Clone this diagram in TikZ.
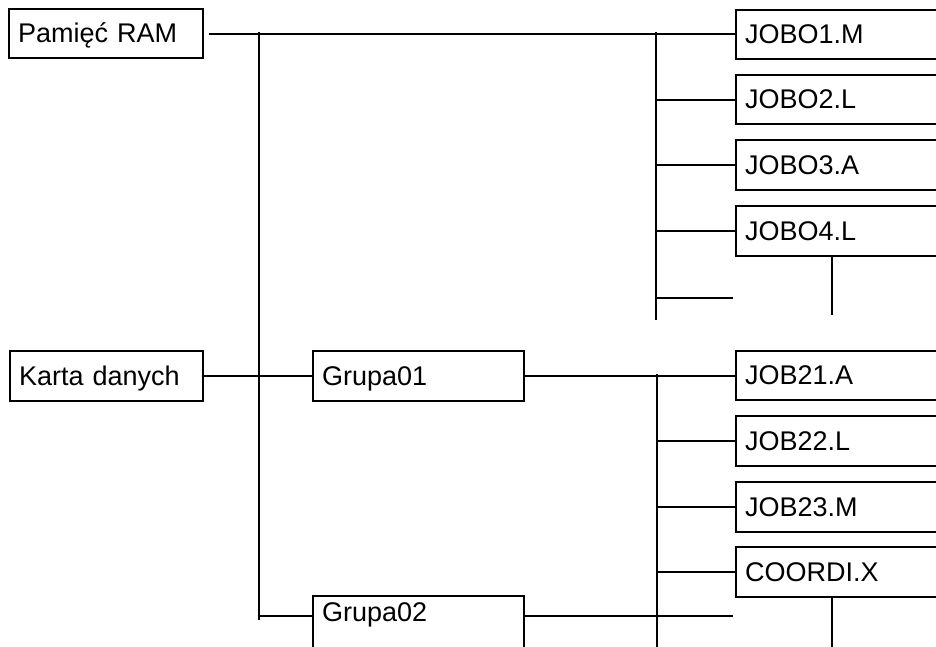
\documentclass[tikz,border=0pt]{standalone}
\usepackage{fontspec}
\setmainfont{Liberation Sans}
\begin{document}
\begin{tikzpicture}[x=1pt,y=-1pt,
  box/.style={draw, line width=2pt, anchor=north west, inner xsep=9pt, inner ysep=0pt,
    align=left, font=\fontsize{27}{30}\selectfont, text height=34pt, text depth=15.5pt},
  rbox/.style={box, text width=280pt},
  conn/.style={line width=1.7pt}]
\useasboundingbox (0,0) rectangle (936,647);
\clip (0,0) rectangle (936,647);
% left column
\node[box, text width=176pt] (ram) at (8,8) {Pamięć RAM};
\node[box, text width=175pt] (karta) at (9,350) {Karta danych};
% middle column
\node[box, text width=193pt] (g1) at (312,350) {Grupa01};
\node[box, text width=193pt, text height=25pt, text depth=35pt] (g2) at (312,595) {Grupa02};
% right column
\node[rbox] (j1) at (735,9) {JOBO1.M};
\node[rbox] (j2) at (735,74) {JOBO2.L};
\node[rbox] (j3) at (735,139.5) {JOBO3.A};
\node[rbox] (j4) at (735,205) {JOBO4.L};
\node[rbox] (j21) at (735,349.5) {JOB21.A};
\node[rbox] (j22) at (735,415) {JOB22.L};
\node[rbox] (j23) at (735,481) {JOB23.M};
\node[rbox] (cx) at (735,546) {COORDI.X};
% coordinates
\coordinate (busL) at (259,32);
\coordinate (busLend) at (259,620);
\coordinate (s2) at (259,616);
\coordinate (e2) at (733,616);
\coordinate (bR1) at (656,32);
\coordinate (bR1e) at (656,320);
\coordinate (e1) at (733,298);
\coordinate (bR2) at (657,374);
\coordinate (bR2e) at (657,647);
\coordinate (t1) at (832,315);
\coordinate (t2) at (832,647);
% connectors
\draw[conn] (busL) -- (busLend);
\draw[conn] ([xshift=5pt]ram.east) -- (ram.east -| j1.west);
\draw[conn] (karta.east) -- (karta.east -| g1.west);
\draw[conn] (g1.east) -- (g1.east -| j21.west);
\draw[conn] (s2) -- (s2 -| g2.west);
\draw[conn] (s2 -| g2.east) -- (e2);
\draw[conn] (bR1) -- (bR1e);
\foreach \n in {j2,j3,j4} \draw[conn] (bR1 |- \n.west) -- (\n.west);
\draw[conn] (bR1 |- e1) -- (e1);
\draw[conn] (bR2) -- (bR2e);
\foreach \n in {j22,j23,cx} \draw[conn] (bR2 |- \n.west) -- (\n.west);
\draw[conn] (t1 |- j4.south) -- (t1);
\draw[conn] (t2 |- cx.south) -- (t2);
\end{tikzpicture}
\end{document}
